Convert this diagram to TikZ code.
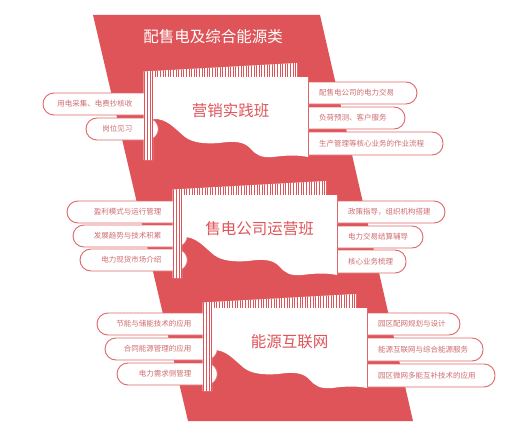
\documentclass[tikz,border=0pt]{standalone}
\usepackage{fontspec}
\newfontfamily\cjk{Noto Sans CJK SC}
\definecolor{rd}{HTML}{DF5459}
\definecolor{pilltxt}{HTML}{CF6D71}
\definecolor{pillln}{HTML}{E0666B}
\tikzset{
  pill/.style={draw=pillln, fill=white, line width=0.9pt, rounded corners=11pt},
  pilledge/.style={draw=pillln, line width=0.9pt},
  ptext/.style={inner sep=0pt, text=pilltxt, font=\cjk\fontsize{7.5}{9}\selectfont},
  boardtitle/.style={inner sep=0pt, text=rd, font=\cjk\fontsize{15.5}{18}\selectfont},
}
% left pill: x1, y1, y2, column left, name, text
\newcommand\lpill[6]{%
  \filldraw[pill] (#1,#2) rectangle (#4+15,#3);
  \node[ptext, anchor=east] (#5) at (#4-11,{(#2+#3)/2}) {#6};
}
% right pill: card right, x2, y1, y2, name, text
\newcommand\rpill[6]{%
  \begin{scope}
    \clip (#1,0) rectangle (524,436);
    \filldraw[pill] (#1-14,#3) rectangle (#2,#4);
  \end{scope}
  \draw[pilledge] (#1+0.5,#3) -- (#1+0.5,#4);
  \node[ptext, anchor=west] (#5) at (#1+11,{(#3+#4)/2}) {#6};
}
% board: card left, card top, name, title
\newcommand\board[4]{%
  \begin{scope}[shift={(#1,#2)}]
    \fill[white] (-9.5,-5.5) -- (144,-14) -- (144,0) -- (0,0) -- (0,83) -- (-9.5,83) -- cycle;
    \begin{scope}
      \clip (-9.5,-5.5) -- (144,-14) -- (144,0) -- (0,0) -- (0,83) -- (-9.5,83) -- cycle;
      \foreach \i in {0,...,60} \draw[rd, line width=0.75pt] ({-8.2+\i*2.6},-20) -- ({-8.2+\i*2.6},90);
    \end{scope}
    \fill[white] (0,0) -- (0,42)
      .. controls (14,41) and (22,52) .. (32,60)
      .. controls (40,66) and (52,67) .. (66,66)
      .. controls (80,64) and (90,64) .. (97,71)
      .. controls (103,78) and (108,81) .. (120,80)
      .. controls (135,78) and (145,78) .. (155,80)
      -- (155,0) -- cycle;
    \node[boardtitle] (#3) at (77.5,34) {#4};
  \end{scope}
}
\begin{document}
\begin{tikzpicture}[x=1pt,y=-1pt]
\useasboundingbox (0,0) rectangle (524,436);
\fill[white] (0,0) rectangle (524,436);
\fill[rd] (93,15) -- (320,15) -- (413,421) -- (188,421) -- cycle;
\node[inner sep=0pt, text=white, font=\cjk\fontsize{15.5}{18}\selectfont] (title) at (213,37) {配售电及综合能源类};

% board 1
\lpill{43}{93}{115}{143.5}{la1}{用电采集、电费抄核收}
\lpill{86}{118}{140}{143.5}{la2}{岗位见习}
\board{153}{77}{b1}{营销实践班}
\rpill{308}{417}{82}{104}{ra1}{配售电公司的电力交易}
\rpill{308}{405}{107}{129}{ra2}{负荷预测、客户服务}
\rpill{308}{443}{132}{155}{ra3}{生产管理等核心业务的作业流程}

% board 2
\lpill{67}{201}{223}{172.5}{lb1}{盈利模式与运行管理}
\lpill{73}{225}{247}{172.5}{lb2}{发展趋势与技术积累}
\lpill{80}{249}{271}{172.5}{lb3}{电力现货市场介绍}
\board{182}{195}{b2}{售电公司运营班}
\rpill{337}{445}{201}{223}{rb1}{政策指导，组织机构搭建}
\rpill{337}{423}{226}{248}{rb2}{电力交易结算辅导}
\rpill{337}{406}{250}{273}{rb3}{核心业务梳理}

% board 3
\lpill{97}{313}{335}{202.5}{lc1}{节能与储能技术的应用}
\lpill{105}{338}{360}{202.5}{lc2}{合同能源管理的应用}
\lpill{117}{363}{385}{202.5}{lc3}{电力需求侧管理}
\board{212}{308}{b3}{能源互联网}
\rpill{367}{460}{313}{335}{rc1}{园区配网规划与设计}
\rpill{367}{483}{338}{361}{rc2}{能源互联网与综合能源服务}
\rpill{367}{495}{364}{387}{rc3}{园区微网多能互补技术的应用}
\end{tikzpicture}
\end{document}
